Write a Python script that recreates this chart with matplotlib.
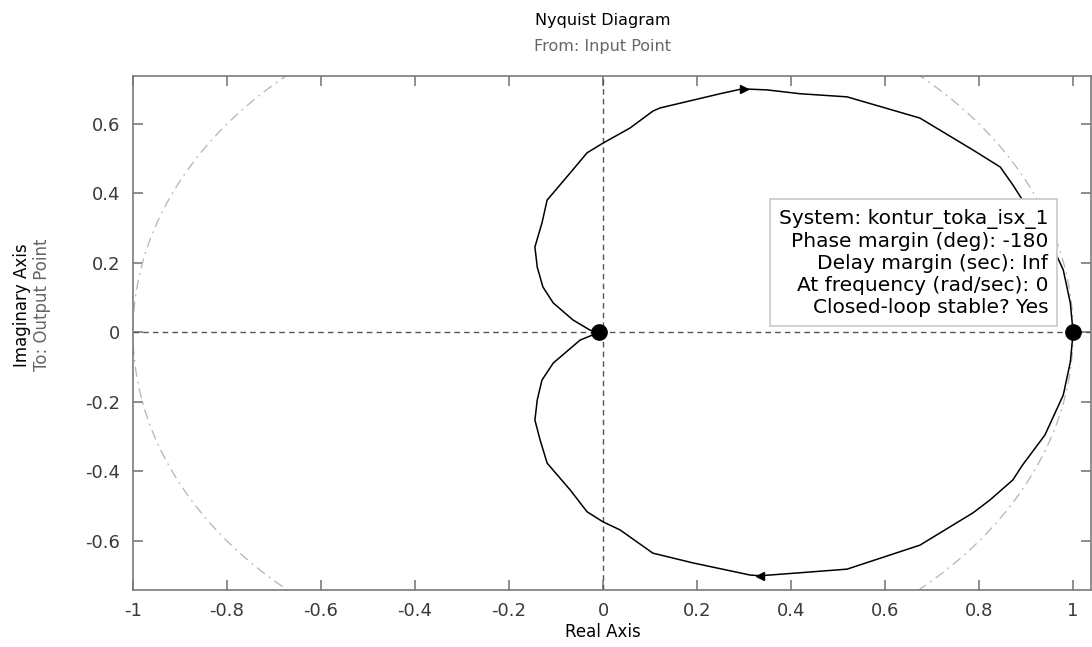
import matplotlib
matplotlib.use("Agg")
import matplotlib.pyplot as plt
import numpy as np

# Nyquist curve (upper branch from origin out to (1, 0))
upper_re = [-0.006, -0.028, -0.064, -0.106, -0.128, -0.140, -0.145, -0.130, -0.119,
            -0.070, -0.034, 0.000, 0.057, 0.106, 0.121, 0.249, 0.296, 0.349, 0.419,
            0.519, 0.674, 0.787, 0.845, 0.872, 0.891, 0.940, 0.979, 0.994, 1.000]
upper_im = [0.000, 0.007, 0.036, 0.085, 0.131, 0.188, 0.246, 0.315, 0.381,
            0.459, 0.517, 0.545, 0.588, 0.637, 0.646, 0.687, 0.701, 0.698, 0.687,
            0.678, 0.617, 0.525, 0.476, 0.424, 0.384, 0.295, 0.180, 0.085, 0.000]
lower_re = [-0.013, -0.049, -0.106, -0.130, -0.140, -0.145, -0.134, -0.119, -0.070,
            -0.034, 0.000, 0.036, 0.106, 0.191, 0.313, 0.334, 0.413, 0.519, 0.674,
            0.787, 0.823, 0.872, 0.891, 0.940, 0.979, 0.994, 1.000]
lower_im = [-0.002, -0.022, -0.088, -0.137, -0.194, -0.252, -0.309, -0.376, -0.453,
            -0.516, -0.545, -0.568, -0.635, -0.663, -0.698, -0.700, -0.692, -0.681, -0.612,
            -0.519, -0.482, -0.424, -0.384, -0.295, -0.180, -0.085, 0.000]

# direction arrows and margin markers
arrow_up = (0.300, 0.701)
arrow_down = (0.334, -0.700)
marker_re = [-0.008, 1.0]
marker_im = [0.0, 0.0]

xticks = [-1, -0.8, -0.6, -0.4, -0.2, 0, 0.2, 0.4, 0.6, 0.8, 1]
xticklabels = ["-1", "-0.8", "-0.6", "-0.4", "-0.2", "0", "0.2", "0.4", "0.6", "0.8", "1"]
yticks = [-0.6, -0.4, -0.2, 0, 0.2, 0.4, 0.6]
yticklabels = ["-0.6", "-0.4", "-0.2", "0", "0.2", "0.4", "0.6"]

tip_lines = [
    "System: kontur_toka_isx_1",
    "Phase margin (deg): -180",
    "Delay margin (sec): Inf",
    "At frequency (rad/sec): 0",
    "Closed-loop stable? Yes",
]

W, H = 1092, 647
fig = plt.figure(figsize=(W / 100, H / 100), dpi=100)
ax = fig.add_axes([133 / W, (H - 590) / H, (1091 - 133) / W, (590 - 76) / H])

spine_col = "#7a7a7a"
for s in ax.spines.values():
    s.set_color(spine_col)
    s.set_linewidth(1.2)

# unit circle
t = np.linspace(0, 2 * np.pi, 400)
ax.plot(np.cos(t), np.sin(t), color="#b4b4b4", lw=0.9, ls=(0, (8, 4, 1.5, 4)))

# zero lines
ax.axhline(0, color="#555555", lw=1.0, ls=(0, (4, 3)))
ax.axvline(0, color="#555555", lw=1.0, ls=(0, (4, 3)))

ax.plot(upper_re, upper_im, color="black", lw=1.1)
ax.plot(lower_re, lower_im, color="black", lw=1.1)
ax.plot(*arrow_up, marker=">", color="black", ms=6)
ax.plot(*arrow_down, marker="<", color="black", ms=6)
ax.plot(marker_re, marker_im, "o", color="black", ms=11)

ax.set_xlim(-1, 1.038)
ax.set_ylim(-0.741, 0.738)
ax.set_xticks(xticks)
ax.set_xticklabels(xticklabels)
ax.set_yticks(yticks)
ax.set_yticklabels(yticklabels)
ax.tick_params(direction="in", length=7, width=1.2, color=spine_col,
               labelsize=13, labelcolor="#3a3a3a", top=True, right=True, pad=9)

# data tip box
ax.text(0.947, 0.201, "\n".join(tip_lines), ha="right", va="center",
        multialignment="right", fontsize=14.5, linespacing=1.2, color="black",
        zorder=10,
        bbox=dict(boxstyle="square,pad=0.45", fc="white", ec="#c8c8c8", lw=1.2))

fig.text(603 / W, 1 - 20 / H, "Nyquist Diagram", ha="center", va="center", fontsize=11.5)
fig.text(603 / W, 1 - 47 / H, "From: Input Point", ha="center", va="center",
         fontsize=11.5, color="#666666")
fig.text(603 / W, 1 - 632 / H, "Real Axis", ha="center", va="center", fontsize=12)
fig.text(22 / W, 1 - 305 / H, "Imaginary Axis", ha="center", va="center",
         rotation=90, fontsize=12)
fig.text(42 / W, 1 - 305 / H, "To: Output Point", ha="center", va="center",
         rotation=90, fontsize=12, color="#666666")

fig.savefig("out.png", dpi=100)
